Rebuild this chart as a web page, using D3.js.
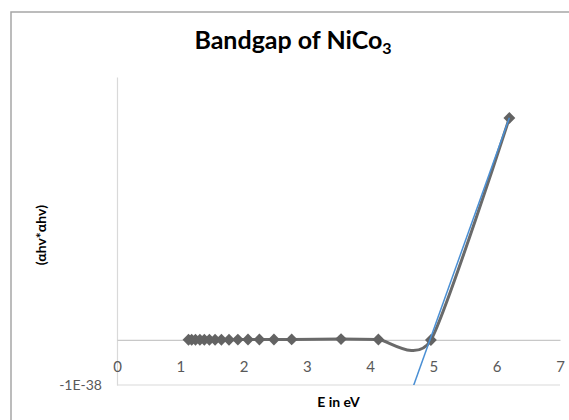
<!DOCTYPE html>
<html>
<head>
<meta charset="utf-8">
<script src="https://cdn.jsdelivr.net/npm/d3@7"></script>
<style>
  body { margin: 0; background: #fff; }
  svg { display: block; font-family: Lato, "Open Sans", sans-serif; }
</style>
</head>
<body>
<svg class="chart"></svg>
<script>
// photon energy (eV) and (αhv)^2
var energy = [1.13, 1.18, 1.24, 1.31, 1.38, 1.46, 1.55, 1.65, 1.77, 1.91, 2.07, 2.25, 2.48, 2.76, 3.54, 4.13, 4.96, 6.20];
var alphaSq = [0.005e-38, 0.005e-38, 0.005e-38, 0.005e-38, 0.005e-38, 0.005e-38, 0.005e-38, 0.005e-38, 0.005e-38,
               0.008e-38, 0.01e-38, 0.01e-38, 0.01e-38, 0.012e-38, 0.02e-38, 0.01e-38, 0.0, 4.93e-38];
var xTicks = [0, 1, 2, 3, 4, 5, 6, 7];
var yTicks = [-1e-38];
var yTickLabels = ["-1E-38"];
// linear trendline y = slope*x + intercept
var trendSlope = 3.93e-38,
    trendIntercept = -19.43e-38;

var width = 569,
    height = 420;

var chart = d3.select(".chart")
    .attr("width", width)
    .attr("height", height);

var x = d3.scaleLinear().domain([0, 7]).range([117, 560]);
var y = d3.scaleLinear().domain([-1e-38, 5.84e-38]).range([385, 77]);

var data = energy.map(function(e, i) { return {x: e, y: alphaSq[i]}; });

// chart area border (runs off the right and bottom edges)
chart.append("rect")
    .attr("x", 11).attr("y", 12)
    .attr("width", 620).attr("height", 460)
    .attr("fill", "none")
    .attr("stroke", "#a6a6a6")
    .attr("stroke-width", 1.5);

chart.append("text")
    .attr("x", 293).attr("y", 49)
    .attr("text-anchor", "middle")
    .attr("font-size", 25).attr("font-weight", "bold")
    .attr("fill", "#000")
    .text("Bandgap of NiCo")
  .append("tspan")
    .attr("font-size", 16).attr("dy", 5)
    .text("3");

// gridline at the bottom value
chart.append("g").selectAll("line")
    .data(yTicks)
  .enter().append("line")
    .attr("x1", x(0)).attr("x2", x(7))
    .attr("y1", function(d) { return y(d); })
    .attr("y2", function(d) { return y(d); })
    .attr("stroke", "#d9d9d9")
    .attr("stroke-width", 1.2);

var yAxis = chart.append("g")
    .attr("transform", "translate(" + x(0) + ",0)")
    .call(d3.axisLeft(y).tickValues(yTicks).tickSize(0).tickSizeOuter(0).tickPadding(15)
      .tickFormat(function(d, i) { return yTickLabels[i]; }));
yAxis.select(".domain").attr("stroke", "#d9d9d9").attr("stroke-width", 1.2);
yAxis.selectAll("text").attr("font-size", 14).attr("fill", "#595959").attr("font-family", "Lato, sans-serif");

var xAxis = chart.append("g")
    .attr("transform", "translate(0," + y(0) + ")")
    .call(d3.axisBottom(x).tickValues(xTicks).tickFormat(d3.format("d"))
      .tickSize(0).tickSizeOuter(0).tickPadding(21));
xAxis.select(".domain").attr("stroke", "#c8c8c8").attr("stroke-width", 1.2);
xAxis.selectAll("text").attr("font-size", 15).attr("fill", "#595959").attr("font-family", "Lato, sans-serif");

chart.append("text")
    .attr("x", (x(0) + x(7)) / 2).attr("y", 407)
    .attr("text-anchor", "middle")
    .attr("font-size", 14).attr("font-weight", "bold")
    .text("E in eV");

chart.append("text")
    .attr("transform", "translate(46,235) rotate(-90)")
    .attr("text-anchor", "middle")
    .attr("font-size", 14).attr("font-weight", "bold")
    .text("(\u03b1hv*\u03b1hv)");

chart.append("clipPath").attr("id", "plot")
  .append("rect")
    .attr("x", x(0)).attr("y", y.range()[1])
    .attr("width", x(7) - x(0)).attr("height", y.range()[0] - y.range()[1]);

var line = d3.line()
    .x(function(d) { return x(d.x); })
    .y(function(d) { return y(d.y); })
    .curve(d3.curveCardinal.tension(0.35));

chart.append("path")
    .datum(data)
    .attr("d", line)
    .attr("fill", "none")
    .attr("stroke", "#6a6a6a")
    .attr("stroke-width", 3);

chart.selectAll(".marker")
    .data(data)
  .enter().append("path")
    .attr("class", "marker")
    .attr("d", d3.symbol().type(d3.symbolSquare).size(70))
    .attr("transform", function(d) { return "translate(" + x(d.x) + "," + y(d.y) + ") rotate(45)"; })
    .attr("fill", "#636363");

// trendline over the data range, clipped to the plot area
var trendX = d3.extent(energy);
chart.append("line")
    .attr("clip-path", "url(#plot)")
    .attr("x1", x(trendX[0])).attr("y1", y(trendSlope * trendX[0] + trendIntercept))
    .attr("x2", x(trendX[1])).attr("y2", y(trendSlope * trendX[1] + trendIntercept))
    .attr("stroke", "#4a8fd4")
    .attr("stroke-width", 1.5);
</script>
</body>
</html>
